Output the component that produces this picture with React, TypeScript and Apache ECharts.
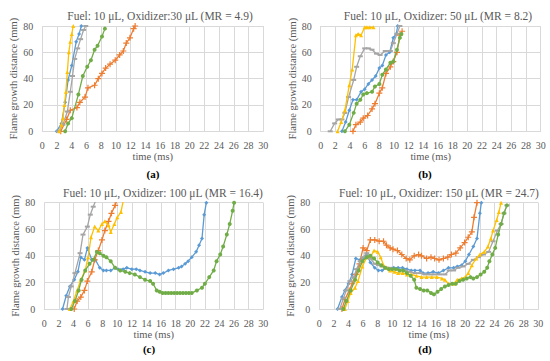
import React, { useEffect, useRef } from "react";
import * as echarts from "echarts";

type P = [number, number][];

// Panel (a) MR = 4.9
const aBlue: P = [[1.95,0],[2.6,6],[3.1,22],[3.5,39],[4.0,50],[4.6,68],[5.0,74],[5.3,80]];
const aOrange: P = [[2.5,0],[3.3,9],[3.8,16],[4.7,18],[5.1,22],[5.8,26],[6.2,33],[7.1,35],[7.6,40],[8.1,44],[8.6,48],[9.2,51],[9.9,54],[10.5,58],[11.0,61],[11.4,67],[11.9,71],[12.4,78],[12.6,80]];
const aGray: P = [[2.2,0],[2.8,5],[3.4,15],[3.8,30],[4.1,42],[4.4,55],[4.8,63],[5.2,70],[5.6,77],[5.9,80]];
const aYellow: P = [[2.3,0],[2.6,5],[2.8,10],[3.0,20],[3.2,30],[3.4,45],[3.6,60],[3.8,68],[4.0,74],[4.2,80]];
const aGreen: P = [[3.1,0],[3.5,6],[4.0,10],[4.9,28],[5.5,42],[6.1,49],[6.6,54],[7.1,62],[7.5,65],[8.1,72],[8.5,78]];

// Panel (b) MR = 8.2
const bBlue: P = [[2.9,0],[3.4,7],[3.9,16],[4.4,24],[4.9,24],[5.5,30],[6.0,32],[6.5,36],[7.0,39],[7.5,42],[8.0,48],[8.4,50],[8.9,58],[9.4,60],[9.9,71],[10.3,74],[10.5,80]];
const bOrange: P = [[4.4,0],[4.8,5],[5.4,7],[5.8,10],[6.4,12],[7.0,17],[7.4,21],[8.0,29],[8.4,33],[8.9,44],[9.5,49],[9.9,53],[10.4,60],[10.8,73],[11.1,76]];
const bGray: P = [[1.3,0],[1.9,6],[2.4,9],[2.9,9],[3.3,14],[3.8,26],[4.5,39],[4.9,49],[5.4,57],[6.0,63],[6.5,63],[7.0,62],[7.6,59],[8.1,58],[8.8,61],[9.5,61],[9.9,67],[10.4,74],[10.8,80]];
const bYellow: P = [[2.3,0],[2.8,7],[3.3,16],[3.9,35],[4.3,47],[4.8,73],[5.1,74],[5.5,73],[6.0,79],[6.3,79],[6.7,79],[7.2,79]];
const bGreen: P = [[3.3,0],[3.9,5],[4.5,14],[4.9,21],[5.4,24],[5.8,28],[6.3,29],[7.0,30],[7.4,34],[8.0,36],[8.4,43],[8.9,47],[9.5,52],[9.9,53],[10.4,62],[10.8,71],[11.0,74]];

// Panel (c) MR = 16.4
const cBlue: P = [[2.5,0],[3.0,10],[3.5,17],[4.1,22],[4.6,28],[5.0,39],[5.5,37],[5.9,46],[6.5,37],[7.0,37],[7.6,31],[8.1,29],[8.5,29],[9.1,29],[9.7,31],[10.1,30],[10.8,30],[11.3,31],[12.0,30],[12.6,30],[13.1,29],[13.8,28],[14.5,27],[15.2,27],[15.8,26],[16.3,27],[17.0,29],[17.7,30],[18.4,31],[18.8,32],[19.3,34],[19.7,36],[20.2,39],[20.8,43],[21.2,48],[21.6,53],[21.9,71],[22.2,80]];
const cOrange: P = [[4.1,0],[4.5,6],[5.0,9],[5.5,14],[5.9,21],[6.5,28],[6.9,37],[7.4,44],[7.9,52],[8.3,59],[8.8,66],[9.2,72],[9.7,78],[9.9,81]];
const cGray: P = [[3.1,0],[3.3,9],[3.7,17],[4.2,27],[4.9,42],[5.3,56],[5.9,62],[6.3,71],[6.7,77],[7.0,81]];
const cYellow: P = [[3.5,0],[4.0,6],[4.5,14],[5.0,22],[5.6,29],[6.0,39],[6.4,54],[6.9,62],[7.4,59],[7.9,64],[8.3,66],[8.8,63],[9.1,58],[9.6,64],[10.0,69],[10.5,73],[10.8,81]];
const cGreen: P = [[3.7,0],[4.2,6],[4.7,14],[5.1,22],[5.6,29],[6.2,34],[6.7,37],[7.2,43],[7.6,42],[8.1,40],[8.5,39],[9.1,36],[9.7,31],[10.4,29],[11.1,28],[11.7,27],[12.4,26],[13.1,24],[13.8,22],[14.5,21],[14.9,19],[15.4,14],[15.8,13],[16.2,12],[16.6,12],[17.0,12],[17.4,12],[17.8,12],[18.2,12],[18.6,12],[19.0,12],[19.4,12],[19.8,12],[20.2,12],[20.9,14],[21.6,16],[22.0,19],[22.6,24],[23.2,29],[23.6,36],[24.1,41],[24.5,47],[25.0,56],[25.4,64],[25.8,74],[26.0,80]];

// Panel (d) MR = 24.7
const dBlue: P = [[2.5,0],[3.1,9],[3.5,14],[4.0,19],[4.5,26],[5.0,38],[5.6,37],[6.0,38],[6.5,41],[7.0,35],[7.6,31],[8.1,29],[8.6,29],[9.2,31],[9.7,30],[10.2,31],[10.8,31],[11.4,31],[12.0,30],[12.6,29],[13.1,29],[13.8,29],[14.2,27],[14.9,27],[15.6,28],[16.3,27],[17.0,29],[17.7,31],[18.4,31],[18.9,32],[19.5,33],[20.0,36],[20.5,41],[21.1,47],[21.6,53],[22.0,72],[22.2,80]];
const dOrange: P = [[3.1,0],[3.5,7],[4.1,14],[4.5,19],[5.0,26],[5.5,34],[6.0,46],[6.5,44],[7.0,52],[7.6,52],[8.2,51],[8.8,51],[9.2,48],[9.7,46],[10.1,45],[10.7,44],[11.3,41],[11.9,38],[12.4,37],[13.0,40],[13.6,41],[14.0,40],[14.7,38],[15.3,39],[15.8,38],[16.4,37],[17.0,38],[17.6,39],[18.1,41],[18.7,42],[19.3,46],[19.9,50],[20.4,54],[20.9,58],[21.2,69],[21.6,80]];
const dGray: P = [[2.8,0],[3.3,8],[3.7,14],[4.2,21],[4.7,24],[5.1,30],[5.6,36],[6.0,39],[6.5,42],[7.0,38],[7.6,34],[8.1,33],[8.6,32],[9.2,31],[9.7,31],[10.4,30],[11.1,29],[11.7,29],[12.4,28],[13.1,27],[13.8,27],[14.5,26],[15.2,26],[15.8,26],[16.5,26],[17.2,26],[17.8,29],[18.4,29],[19.0,31],[19.7,32],[20.4,34],[21.1,37],[21.8,39],[22.5,41],[23.2,43],[23.8,51],[24.4,59],[24.9,64],[25.3,72],[25.7,78]];
const dYellow: P = [[3.5,0],[3.9,6],[4.3,12],[4.9,16],[5.3,21],[5.9,32],[6.5,39],[7.1,40],[7.5,44],[8.0,43],[8.4,39],[8.8,33],[9.2,31],[9.7,29],[10.3,28],[10.8,27],[11.4,27],[12.0,26],[12.6,26],[13.3,25],[14.0,24],[14.7,24],[15.4,24],[16.1,24],[16.8,23],[17.2,22],[17.7,19],[18.4,19],[18.9,22],[19.5,23],[20.0,24],[20.4,27],[20.9,33],[21.5,38],[22.0,41],[22.6,43],[23.1,47],[23.5,53],[23.8,59],[24.3,67],[24.6,73],[24.9,80]];
const dGreen: P = [[3.3,0],[3.7,6],[4.3,14],[4.9,22],[5.4,29],[5.9,36],[6.5,39],[7.0,40],[7.5,38],[8.0,35],[8.5,33],[9.0,31],[9.5,30],[10.0,30],[10.5,30],[11.0,29],[11.5,29],[12.0,27],[12.5,25],[13.0,22],[13.3,16],[13.8,15],[14.3,14],[14.8,14],[15.3,12],[15.7,11],[16.2,13],[16.7,15],[17.2,17],[17.7,18],[18.2,19],[18.7,19],[19.2,21],[19.7,22],[20.2,23],[20.7,24],[21.1,23],[21.6,24],[22.1,26],[22.6,28],[23.0,31],[23.3,36],[23.7,41],[24.1,46],[24.5,56],[24.9,64],[25.3,72],[25.7,78]];

const panelTitles = [
  "Fuel: 10 μL, Oxidizer:30 μL (MR = 4.9)",
  "Fuel: 10 μL, Oxidizer: 50 μL (MR = 8.2)",
  "Fuel: 10 μL, Oxidizer: 100 μL (MR = 16.4)",
  "Fuel: 10 μL, Oxidizer: 150 μL (MR = 24.7)",
];
const panelLabels = ["(a)", "(b)", "(c)", "(d)"];
const xName = "time (ms)";
const yName = "Flame growth distance (mm)";

const panels: P[][] = [
  [aBlue, aOrange, aGray, aYellow, aGreen],
  [bBlue, bOrange, bGray, bYellow, bGreen],
  [cBlue, cOrange, cGray, cYellow, cGreen],
  [dBlue, dOrange, dGray, dYellow, dGreen],
];

const COLORS = ["#5B9BD5", "#ED7D31", "#A5A5A5", "#FFC000", "#70AD47"];
const SYMBOLS = [
  "diamond",
  "path://M4,0H6V4H10V6H6V10H4V6H0V4H4Z",
  "path://M0,4H10V6H0Z",
  "triangle",
  "circle",
];
const SIZES: any[] = [4, 6, [5, 2], 4, 4];

const FONT = "Liberation Serif";

const GRIDS = [
  { left: 42.3, top: 26, width: 221, height: 105.3 },
  { left: 320.7, top: 26, width: 220, height: 105.3 },
  { left: 44.3, top: 202.7, width: 219, height: 106.3 },
  { left: 319.3, top: 202.7, width: 219, height: 106.3 },
];
const TITLE_POS = [
  [160, 16],
  [438, 16],
  [163, 193],
  [439, 193],
];
const LABEL_POS = [
  [153, 174],
  [425, 174],
  [149, 349],
  [425, 349],
];

export default function App() {
  const ref = useRef<HTMLDivElement>(null);
  useEffect(() => {
    document.body.style.margin = "0";
    const chart = echarts.init(ref.current!, null, { renderer: "svg" });
    const xAxis: any[] = [];
    const yAxis: any[] = [];
    const series: any[] = [];
    const graphic: any[] = [];
    GRIDS.forEach((g, i) => {
      xAxis.push({
        gridIndex: i,
        type: "value",
        min: 0,
        max: 30,
        interval: 2,
        name: xName,
        nameLocation: "middle",
        nameGap: 20,
        nameTextStyle: { color: "#595959", fontSize: 10.5, fontFamily: FONT },
        axisLine: { show: true, lineStyle: { color: "#d9d9d9" } },
        axisTick: { show: false },
        axisLabel: { color: "#595959", fontSize: 10, fontFamily: FONT, margin: 9 },
        splitLine: { show: true, lineStyle: { color: "#d9d9d9", width: 1 } },
      });
      yAxis.push({
        gridIndex: i,
        type: "value",
        min: 0,
        max: 80,
        interval: 20,
        name: yName,
        nameLocation: "middle",
        nameGap: 22,
        nameTextStyle: { color: "#595959", fontSize: 10.5, fontFamily: FONT },
        axisLine: { show: false },
        axisTick: { show: false },
        axisLabel: { color: "#595959", fontSize: 10, fontFamily: FONT, margin: 9 },
        splitLine: { show: true, lineStyle: { color: "#d9d9d9", width: 1 } },
      });
      panels[i].forEach((data, k) => {
        series.push({
          type: "line",
          xAxisIndex: i,
          yAxisIndex: i,
          data,
          showSymbol: true,
          symbol: SYMBOLS[k],
          symbolSize: SIZES[k],
          lineStyle: { color: COLORS[k], width: 1.3 },
          itemStyle: { color: COLORS[k], borderWidth: 0 },
          clip: true,
          z: 2 + k,
        });
      });
      graphic.push({
        type: "text",
        x: TITLE_POS[i][0],
        y: TITLE_POS[i][1],
        style: {
          text: panelTitles[i],
          fill: "#595959",
          fontSize: 11.5,
          fontFamily: FONT,
          align: "center",
          verticalAlign: "middle",
        },
      });
      graphic.push({
        type: "text",
        x: LABEL_POS[i][0],
        y: LABEL_POS[i][1],
        style: {
          text: panelLabels[i],
          fill: "#000",
          fontSize: 11,
          fontWeight: "bold",
          fontFamily: FONT,
          align: "center",
          verticalAlign: "middle",
        },
      });
    });
    chart.setOption({
      animation: false,
      backgroundColor: "#ffffff",
      grid: GRIDS.map((g) => ({ ...g, containLabel: false })),
      xAxis,
      yAxis,
      series,
      graphic,
    });
    return () => chart.dispose();
  }, []);
  return <div ref={ref} style={{ width: 550, height: 361 }} />;
}
